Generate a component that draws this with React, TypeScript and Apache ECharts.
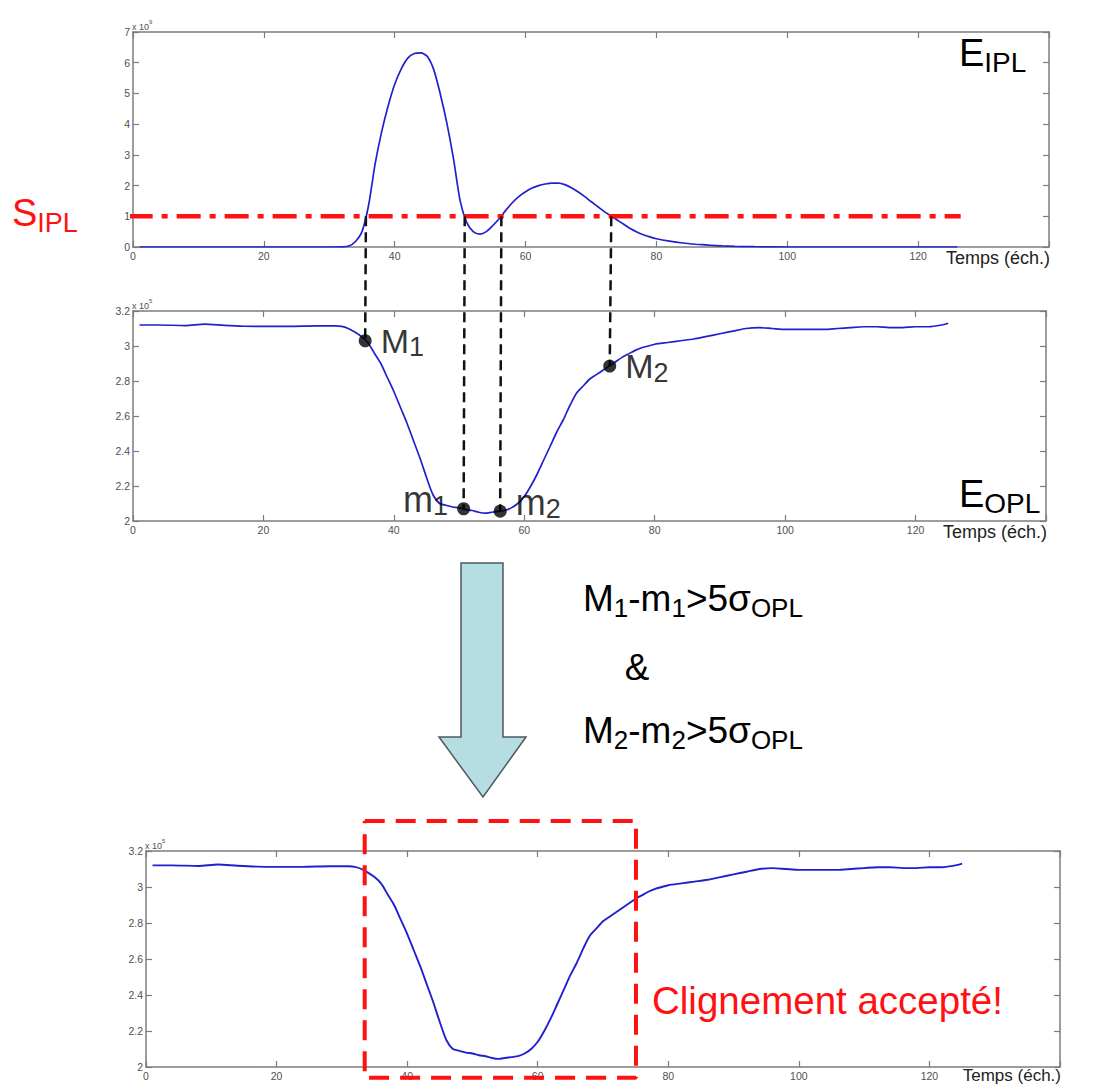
import React, { useEffect, useRef } from 'react';
import * as echarts from 'echarts';

const FONT = '"Liberation Sans", Arial, Helvetica, sans-serif';

// E_IPL energy (x 10^9) vs time (samples)
const iplTime = [1, 10, 20, 30, 32, 33, 34, 35, 36, 37, 38, 39, 40, 41, 42, 43, 44, 45, 46, 47, 48, 49, 50, 51, 52, 53, 54, 55, 56, 57, 58, 59, 60, 61, 62, 63, 64, 65, 66, 67, 68, 69, 70, 71, 72, 73, 74, 75, 76, 77, 78, 79, 80, 82, 84, 86, 88, 90, 92, 95, 100, 110, 120, 126];
const iplValue = [0, 0, 0, 0, 0.005, 0.03, 0.18, 0.5, 1.35, 2.7, 3.75, 4.6, 5.3, 5.8, 6.15, 6.3, 6.32, 6.2, 5.75, 4.95, 4.0, 2.85, 1.5, 0.8, 0.5, 0.42, 0.5, 0.7, 0.93, 1.2, 1.45, 1.65, 1.8, 1.92, 2.0, 2.05, 2.08, 2.08, 2.03, 1.93, 1.8, 1.65, 1.48, 1.32, 1.16, 1.02, 0.88, 0.74, 0.6, 0.49, 0.4, 0.33, 0.27, 0.19, 0.13, 0.09, 0.06, 0.035, 0.02, 0.01, 0, 0, 0, 0];

// E_OPL energy (x 10^5) vs time (samples)
const oplTime = [1, 4, 8, 11, 14, 17, 20, 24, 28, 31, 32, 33, 34, 35, 36, 37, 38, 39, 40, 41, 42, 43, 44, 45, 46, 47, 48, 49, 50, 51, 52, 53, 54, 55, 56, 57, 58, 59, 60, 61, 62, 63, 64, 65, 66, 67, 68, 69, 70, 71, 72, 73, 74, 75, 76, 77, 78, 79, 80, 82, 84, 86, 88, 90, 92, 94, 96, 98, 100, 102, 104, 106, 108, 110, 112, 114, 116, 118, 120, 122, 124, 125];
const oplValue = [3.12, 3.12, 3.117, 3.125, 3.118, 3.113, 3.112, 3.112, 3.115, 3.115, 3.112, 3.10, 3.08, 3.055, 3.02, 2.96, 2.90, 2.82, 2.74, 2.65, 2.56, 2.46, 2.36, 2.25, 2.15, 2.10, 2.09, 2.08, 2.075, 2.065, 2.06, 2.05, 2.045, 2.05, 2.055, 2.06, 2.075, 2.10, 2.14, 2.20, 2.27, 2.35, 2.43, 2.51, 2.58, 2.66, 2.73, 2.77, 2.81, 2.835, 2.86, 2.885, 2.91, 2.935, 2.955, 2.975, 2.99, 3.0, 3.01, 3.02, 3.03, 3.04, 3.055, 3.07, 3.085, 3.10, 3.105, 3.10, 3.095, 3.095, 3.095, 3.095, 3.10, 3.105, 3.11, 3.11, 3.105, 3.105, 3.11, 3.11, 3.12, 3.13];

// Threshold S_IPL (x 10^9) and its drawn span (samples)
const threshold = 1.0;
const thresholdSpan = [-8, 126.5];

// Points M1, m1, m2, M2 on E_OPL
const markerMain = ['M', 'm', 'm', 'M'];
const markerSub = ['1', '1', '2', '2'];
const markerTime = [35.6, 50.7, 56.3, 73.1];
const markerValue = [3.03, 2.07, 2.056, 2.885];

// Accepted blink window
const windowTime = [33.5, 75.05];
const windowValue = [1.94, 3.367];

// Axes
const xMin = 0, xMax = 140, xStep = 20;
const iplAxis = [0, 7, 1];
const oplAxis = [2, 3.2, 0.2];

const AXIS = '#7c7c7c';
const LABEL = '#505050';
const BLUE = '#2020d0';
const RED = '#ff1111';

export default function App() {
  const ref = useRef<HTMLDivElement>(null);
  useEffect(() => {
    if (!ref.current) return;
    const chart = echarts.init(ref.current, null, { renderer: 'svg' });

    const grids = [
      { left: 133, top: 32, width: 916, height: 215 },
      { left: 133, top: 311, width: 913, height: 210 },
      { left: 146, top: 851, width: 914, height: 216 },
    ];
    const mkX = (g: number, pos: string) => ({
      type: 'value', gridIndex: g, min: xMin, max: xMax, interval: xStep, position: pos,
      axisLine: { show: true, onZero: false, lineStyle: { color: AXIS, width: 1.5 } },
      axisTick: { show: true, inside: true, length: 6, lineStyle: { color: AXIS, width: 1.2 } },
      axisLabel: {
        show: pos === 'bottom', color: LABEL, fontSize: 10.5, fontFamily: FONT, margin: 3,
        formatter: (v: number) => (v >= xMax ? '' : String(v)),
      },
      splitLine: { show: false },
    });
    const mkY = (g: number, pos: string, a: number[]) => ({
      type: 'value', gridIndex: g, min: a[0], max: a[1], interval: a[2], position: pos,
      axisLine: { show: true, onZero: false, lineStyle: { color: AXIS, width: 1.5 } },
      axisTick: { show: true, inside: true, length: 6, lineStyle: { color: AXIS, width: 1.2 } },
      axisLabel: {
        show: pos === 'left', color: LABEL, fontSize: 10.5, fontFamily: FONT, margin: 3,
        formatter: (v: number) => String(parseFloat(v.toFixed(1))),
      },
      splitLine: { show: false },
    });

    const iplData = iplTime.map((t, i) => [t, iplValue[i]]);
    const oplData = oplTime.map((t, i) => [t, oplValue[i]]);

    const labelRich = {
      M: { fontSize: 34, fontFamily: FONT, color: '#000', lineHeight: 40, verticalAlign: 'middle' },
      m: { fontSize: 36, fontFamily: FONT, color: '#000', lineHeight: 40, verticalAlign: 'middle' },
      s: { fontSize: 27, fontFamily: FONT, color: '#000', lineHeight: 18, verticalAlign: 'bottom' },
    };
    const markerSide = ['right', 'left', 'right', 'right'];
    const markerOffset = [[0, 0], [0, -9], [0, -9], [0, 0]];

    const option: any = {
      animation: false,
      backgroundColor: '#ffffff',
      grid: grids.map((g) => ({ ...g, show: false })),
      xAxis: [mkX(0, 'bottom'), mkX(0, 'top'), mkX(1, 'bottom'), mkX(1, 'top'), mkX(2, 'bottom'), mkX(2, 'top')],
      yAxis: [
        mkY(0, 'left', iplAxis), mkY(0, 'right', iplAxis),
        mkY(1, 'left', oplAxis), mkY(1, 'right', oplAxis),
        mkY(2, 'left', oplAxis), mkY(2, 'right', oplAxis),
      ],
      series: [
        {
          type: 'line', xAxisIndex: 0, yAxisIndex: 0, data: iplData, showSymbol: false, smooth: 0.25,
          lineStyle: { color: BLUE, width: 1.7 }, z: 2,
        },
        {
          type: 'line', xAxisIndex: 0, yAxisIndex: 0, clip: false, showSymbol: false,
          data: thresholdSpan.map((t) => [t, threshold]),
          lineStyle: { color: RED, width: 4.5, type: [24, 9, 6, 9] }, z: 4,
        },
        {
          type: 'line', xAxisIndex: 2, yAxisIndex: 2, data: oplData, showSymbol: false, smooth: 0.25,
          lineStyle: { color: BLUE, width: 1.7 }, z: 2,
        },
        {
          type: 'scatter', xAxisIndex: 2, yAxisIndex: 2, symbolSize: 13, z: 6,
          itemStyle: { color: '#000' },
          data: markerTime.map((t, i) => ({
            value: [t, markerValue[i]],
            label: {
              show: true, position: markerSide[i], distance: 9, offset: markerOffset[i],
              color: '#000', textBorderWidth: 0,
              formatter: `{${markerMain[i]}|${markerMain[i]}}{s|${markerSub[i]}}`,
              rich: labelRich,
            },
          })),
        },
        {
          type: 'line', xAxisIndex: 4, yAxisIndex: 4, data: oplData, showSymbol: false, smooth: 0.25,
          lineStyle: { color: BLUE, width: 1.9 }, z: 2,
        },
        {
          type: 'line', xAxisIndex: 4, yAxisIndex: 4, clip: false, showSymbol: false, z: 4,
          data: [
            [windowTime[0], windowValue[1]], [windowTime[1], windowValue[1]],
            [windowTime[1], windowValue[0]], [windowTime[0], windowValue[0]],
            [windowTime[0], windowValue[1]],
          ],
          lineStyle: { color: RED, width: 4, type: [20, 11] },
        },
      ],
    };
    chart.setOption(option);

    const bigSub = (size: number, sub: number, fill: string) => ({
      b: { fontSize: size, fontFamily: FONT, fill, lineHeight: size + 8, verticalAlign: 'middle' },
      s: { fontSize: sub, fontFamily: FONT, fill, lineHeight: Math.round(sub * 0.75), verticalAlign: 'bottom' },
    });
    const richText = (x: number, y: number, text: string, size: number, sub: number, fill: string) => ({
      type: 'text', x, y, z: 10,
      style: { text, align: 'left', verticalAlign: 'middle', rich: bigSub(size, sub, fill) },
    });
    const expLabel = (x: number, y: number, e: string) => ({
      type: 'text', x, y, z: 10,
      style: {
        text: `{a|x 10}{e|${e}}`, align: 'left', verticalAlign: 'bottom',
        rich: {
          a: { fontSize: 9, fontFamily: FONT, fill: LABEL, lineHeight: 12, verticalAlign: 'bottom' },
          e: { fontSize: 6, fontFamily: FONT, fill: LABEL, lineHeight: 12, verticalAlign: 'top' },
        },
      },
    });
    const temps = (g: any, size: number, maxBottom: number) => ({
      type: 'text', x: g.left + g.width + 1, y: Math.min(g.top + g.height + 2, maxBottom - size - 1), z: 10,
      style: { text: 'Temps (éch.)', align: 'right', verticalAlign: 'top', fontSize: size, fontFamily: FONT, fill: '#222' },
    });

    const graphics: any[] = [
      {
        type: 'polygon', z: 10,
        shape: { points: [[461, 563], [503, 563], [503, 737], [526, 737], [483, 797], [439, 737], [461, 737]] },
        style: { fill: '#b6dde1', stroke: '#4d5a5c', lineWidth: 1.5 },
      },
      richText(583, 598, '{b|M}{s|1}{b|-m}{s|1}{b|>5σ}{s|OPL}', 37, 26, '#000'),
      {
        type: 'text', x: 637, y: 667, z: 10,
        style: { text: '&', align: 'center', verticalAlign: 'middle', fontSize: 37, fontFamily: FONT, fill: '#000' },
      },
      richText(583, 730, '{b|M}{s|2}{b|-m}{s|2}{b|>5σ}{s|OPL}', 37, 26, '#000'),
      richText(959, 53, '{b|E}{s|IPL}', 38, 28, '#000'),
      richText(959, 494, '{b|E}{s|OPL}', 38, 28, '#000'),
      richText(12, 213, '{b|S}{s|IPL}', 38, 27, RED),
      {
        type: 'text', x: 652, y: 1000, z: 10,
        style: { text: 'Clignement accepté!', align: 'left', verticalAlign: 'middle', fontSize: 38.5, fontFamily: FONT, fill: RED },
      },
      expLabel(132, 31, '9'),
      expLabel(132, 310, '5'),
      expLabel(145, 850, '5'),
      temps(grids[0], 18, 1086), temps(grids[1], 18, 1086), temps(grids[2], 17, 1085),
    ];

    markerTime.forEach((t, i) => {
      const p1 = chart.convertToPixel({ xAxisIndex: 0, yAxisIndex: 0 } as any, [t, threshold]) as number[];
      const p2 = chart.convertToPixel({ xAxisIndex: 2, yAxisIndex: 2 } as any, [t, markerValue[i]]) as number[];
      graphics.push({
        type: 'line', z: 5,
        shape: { x1: p1[0], y1: p1[1], x2: p2[0], y2: p2[1] },
        style: { stroke: '#111', lineWidth: 2.5, lineDash: [10, 6] },
      });
    });

    chart.setOption({ graphic: graphics });
    return () => chart.dispose();
  }, []);

  return (
    <div
      ref={ref}
      style={{ position: 'absolute', left: 0, top: 0, width: 1097, height: 1086, background: '#fff' }}
    />
  );
}
